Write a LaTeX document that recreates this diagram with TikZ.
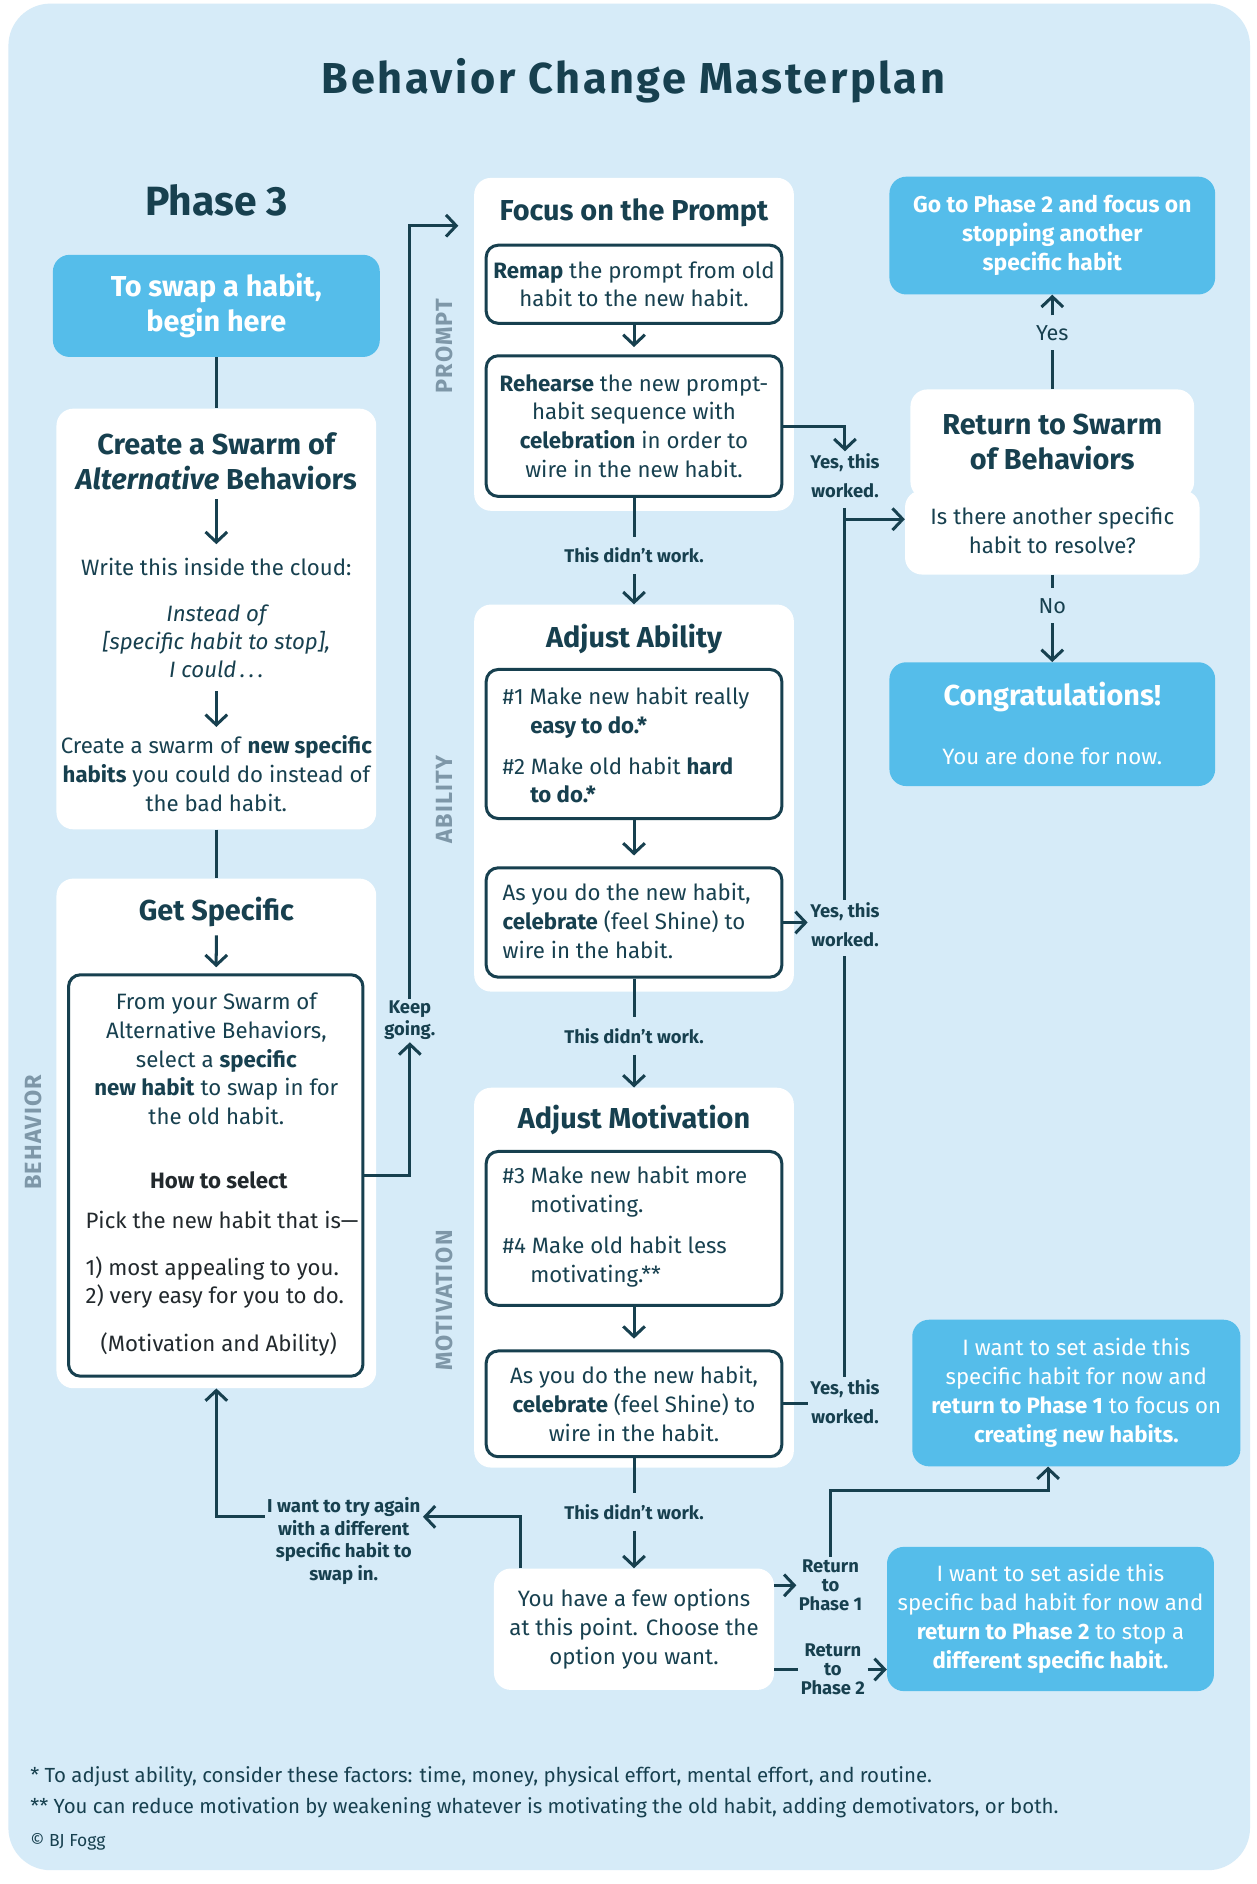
\documentclass[tikz,border=0pt]{standalone}
\usepackage{fontspec}
\setmainfont{Fira Sans}
\usetikzlibrary{arrows.meta}
\definecolor{bgc}{HTML}{D6EBF8}
\definecolor{skyb}{HTML}{55BDEA}
\definecolor{dk}{HTML}{17404F}
\definecolor{grayl}{HTML}{7E97A8}
\definecolor{blk}{HTML}{22292D}
\newcommand\fbody{\fontsize{18.5}{24}\selectfont}
\newcommand\fhead{\fontsize{24}{29}\selectfont\bfseries}
\newcommand\flab{\fontsize{15.3}{24}\selectfont\bfseries}
\tikzset{
  conn/.style={draw=dk, line width=2.5pt},
  arr/.style={conn, -{Straight Barb[length=8.5pt,width=18pt]}},
  wbox/.style={fill=white, rounded corners=14pt, inner sep=0pt, align=center, text=dk, font=\fbody},
  bbox/.style={fill=skyb, rounded corners=14pt, inner sep=0pt, align=center, text=white, font=\fbody},
  ibox/.style={draw=dk, line width=2.5pt, fill=white, rounded corners=10pt, inner sep=0pt, align=center, text=dk, font=\fbody},
  txt/.style={inner sep=0pt, align=center, text=dk, font=\fbody},
  lab/.style={inner xsep=2pt, inner ysep=9pt, align=center, text=dk, font=\fontsize{15.3}{18}\selectfont\bfseries},
  ylab/.style={inner sep=2pt, align=center, text=dk, font=\flab},
  rot/.style={rotate=90, text=grayl, inner sep=0pt, font=\fontsize{19.5}{22}\selectfont\bfseries\addfontfeature{LetterSpace=5}},
  fn/.style={inner sep=0pt, anchor=west, text=dk, font=\fontsize{17}{20}\selectfont},
}
\begin{document}
\begin{tikzpicture}[x=1pt,y=-1pt]
\useasboundingbox (0,0) rectangle (1045,1567.5);
\fill[white] (0,0) rectangle (1045,1567.5);
\fill[bgc, rounded corners=35pt] (7,3) rectangle (1040,1556);

% title
\node[txt, font=\fontsize{36}{40}\selectfont\bfseries\addfontfeature{LetterSpace=6}] (title) at (527,67) {Behavior Change Masterplan};
\node[txt, font=\fontsize{34}{40}\selectfont\bfseries] (phase) at (180,167) {Phase 3};

% side labels
\node[rot] (lbeh) at (28,942) {BEHAVIOR};
\node[rot] (lpro) at (370,288) {PROMPT};
\node[rot] (labi) at (370,665) {ABILITY};
\node[rot] (lmot) at (370,1082) {MOTIVATION};

% left column
\node[bbox, minimum width=272pt, minimum height=85pt, font=\fhead] (start) at (180,254.5) {To swap a habit,\\begin here};
\node[wbox, minimum width=266pt, minimum height=350pt] (swarm) at (180,515) {};
\node[wbox, minimum width=266pt, minimum height=424pt] (gs) at (180,943) {};
\node[ibox, minimum width=245pt, minimum height=334pt] (sel) at (179.5,978) {};

\node[txt, font=\fhead, minimum height=63pt] (sw1) at (180,383.5) {Create a Swarm of\\\textit{Alternative} Behaviors};
\node[txt, minimum height=38pt] (sw2) at (180,472) {Write this inside the cloud:};
\node[txt, minimum height=83pt, font=\fontsize{18.5}{23.5}\selectfont\itshape] (sw3) at (180,533.5) {Instead of\\{[specific habit to stop],}\\I could\,.\,.\,.};
\node[txt, minimum height=77pt] (sw4) at (180,643.5) {Create a swarm of \textbf{new specific}\\\textbf{habits} you could do instead of\\the bad habit.};

\node[txt, font=\fhead, minimum height=38pt] (gs1) at (180,759) {Get Specific};
\node[txt] (s1) at (180,881) {From your Swarm of\\Alternative Behaviors,\\select a \textbf{specific}\\\textbf{new habit} to swap in for\\the old habit.};
\node[txt, text=blk, font=\fbody\bfseries] (s2) at (182,982) {How to select};
\node[txt, text=blk, anchor=west] (s3) at (71,1015) {Pick the new habit that is---};
\node[txt, text=blk, anchor=west, align=left] (s4) at (71,1067) {1) most appealing to you.\\2) very easy for you to do.};
\node[txt, text=blk] (s6) at (182,1119) {(Motivation and Ability)};

% middle column
\node[wbox, minimum width=266pt, minimum height=277pt] (prompt) at (527.5,286.5) {};
\node[wbox, minimum width=266pt, minimum height=322pt] (abil) at (527.5,664) {};
\node[wbox, minimum width=266pt, minimum height=316pt] (mot) at (527.5,1063) {};
\node[wbox, minimum width=233pt, minimum height=101pt] (opt) at (527.5,1355.5) {You have a few options\\at this point. Choose the\\option you want.};

\node[txt, font=\fhead] (p1) at (527.5,177) {Focus on the Prompt};
\node[ibox, minimum width=246pt, minimum height=65pt] (remap) at (527.5,236.5) {\textbf{Remap} the prompt from old\\habit to the new habit.};
\node[ibox, minimum width=246pt, minimum height=117pt] (rehearse) at (527.5,354.5) {\textbf{Rehearse} the new prompt-\\habit sequence with\\\textbf{celebration} in order to\\wire in the new habit.};

\node[txt, font=\fhead] (a1) at (527.5,532) {Adjust Ability};
\node[ibox, minimum width=246pt, minimum height=124pt] (abox) at (527.5,619) {};
\node[txt, anchor=west, align=left] (atext) at (418,620) {\#1 Make new habit really\\\hspace*{23pt}\textbf{easy to do.*}\\[10pt]\#2 Make old habit \textbf{hard}\\\hspace*{23pt}\textbf{to do.*}};
\node[ibox, minimum width=246pt, minimum height=91pt] (acel) at (527.5,767.5) {};
\node[txt, anchor=west, align=left] (aceltext) at (418,766) {As you do the new habit,\\\textbf{celebrate} (feel Shine) to\\wire in the habit.};

\node[txt, font=\fhead] (m1) at (527.5,932) {Adjust Motivation};
\node[ibox, minimum width=246pt, minimum height=128pt] (mbox) at (527.5,1022) {};
\node[txt, anchor=west, align=left] (mtext) at (418,1020.5) {\#3 Make new habit more\\\hspace*{23pt}motivating.\\[10pt]\#4 Make old habit less\\\hspace*{23pt}motivating.**};
\node[ibox, minimum width=246pt, minimum height=88pt] (mcel) at (527.5,1168) {As you do the new habit,\\\textbf{celebrate} (feel Shine) to\\wire in the habit.};

\node[lab] (dw1) at (527.5,462) {This didn't work.};
\node[lab] (dw2) at (527.5,862) {This didn't work.};
\node[lab] (dw3) at (527.5,1258) {This didn't work.};

% right column
\node[bbox, minimum width=271pt, minimum height=98pt, font=\fontsize{19}{24}\selectfont\bfseries] (goph2) at (875.5,196) {Go to Phase 2 and focus on\\stopping another\\specific habit};
\node[wbox, minimum width=236pt, minimum height=91pt] (ret) at (875.5,369.5) {};
\node[wbox, minimum width=245pt, minimum height=70pt] (retq) at (875.5,443) {};
\node[txt, font=\fhead] (rett) at (875.5,367.5) {Return to Swarm\\of Behaviors};
\node[txt] (retqt) at (875.5,441) {Is there another specific\\habit to resolve?};
\node[bbox, minimum width=271pt, minimum height=103pt] (congr) at (875.5,602.5) {};
\node[txt, text=white, font=\fhead] (c1) at (875.5,580) {Congratulations!};
\node[txt, text=white] (c2) at (875.5,629) {You are done for now.};
\node[txt, inner ysep=8pt, font=\fontsize{18}{20}\selectfont] (yeslab) at (875.5,277) {Yes};
\node[txt, inner ysep=8pt, font=\fontsize{18}{20}\selectfont] (nolab) at (875.5,504) {No};

\node[bbox, minimum width=273pt, minimum height=122pt] (p1box) at (895.5,1159) {I want to set aside this\\specific habit for now and\\\textbf{return to Phase 1} to focus on\\\textbf{creating new habits.}};
\node[bbox, minimum width=272pt, minimum height=120pt] (p2box) at (874,1347) {I want to set aside this\\specific bad habit for now and\\\textbf{return to Phase 2} to stop a\\\textbf{different specific habit.}};

\node[ylab] (yes1) at (703,396) {Yes, this\\worked.};
\node[ylab] (yes2) at (703,769) {Yes, this\\worked.};
\node[ylab] (yes3) at (703,1166) {Yes, this\\worked.};
\node[ylab, font=\fontsize{15.3}{18}\selectfont\bfseries] (keep) at (341,849) {Keep\\going.};
\node[ylab, font=\fontsize{15.3}{16}\selectfont\bfseries] (r1lab) at (691,1319) {Return\\to\\Phase 1};
\node[ylab, font=\fontsize{15.3}{16}\selectfont\bfseries] (r2lab) at (693,1389) {Return\\to\\Phase 2};
\node[ylab, font=\fontsize{15.5}{18.7}\selectfont\bfseries] (again) at (286,1282) {I want to try again\\with a different\\specific habit to\\swap in.};

% connectors
\draw[conn] (start) -- (swarm);
\draw[arr] (sw1) -- (sw2);
\draw[arr] (sw3) -- (sw4);
\draw[conn] (swarm) -- (gs);
\draw[arr, shorten >=5pt] (gs1) -- (sel);
\draw[arr] (sel.east) -| (keep.south);
\draw[arr, shorten >=13pt] (keep.north) |- ([yshift=-40pt]prompt.north west);

\draw[arr, shorten >=6pt] (remap) -- (rehearse);
\draw[conn] (rehearse) -- (dw1);
\draw[arr] (dw1) -- (abil);
\draw[arr, shorten >=9pt] (abox) -- (acel);
\draw[conn] (acel) -- (dw2);
\draw[arr] (dw2) -- (mot);
\draw[arr, shorten >=9pt] (mbox) -- (mcel);
\draw[conn] (mcel) -- (dw3);
\draw[arr] (dw3) -- (opt);

\draw[arr] (rehearse.east) -| (yes1.north);
\draw[conn, shorten <=6pt] (yes1.south) -- (yes2.north);
\draw[conn, shorten <=6pt] (yes2.south) -- (yes3.north);
\draw[arr] (yes1.south |- 0,432) -- (retq.west |- 0,432);
\draw[arr] (acel.east) -- (yes2.west |- acel.east);
\draw[conn] (mcel.east) -- (yes3.west |- mcel.east);

\draw[conn] (ret) -- (yeslab);
\draw[arr] (yeslab) -- (goph2);
\draw[conn] (retq) -- (nolab);
\draw[arr] (nolab) -- (congr);

\draw[arr] ([xshift=22pt]opt.north west) |- (again.east |- 0,1262);
\draw[arr] (again.west |- 0,1262) -| (gs.south);
\draw[arr] (opt.east |- r1lab.west) -- (r1lab.west);
\draw[arr] (r1lab.north) -- (r1lab.north |- 0,1240) -| ([xshift=-23.5pt]p1box.south);
\draw[conn] (opt.east |- r2lab.west) -- (r2lab.west);
\draw[arr] (r2lab.east) -- (p2box.west |- r2lab.east);

% footnotes
\node[fn] (fn1) at (25,1478) {* To adjust ability, consider these factors: time, money, physical effort, mental effort, and routine.};
\node[fn] (fn2) at (25,1504) {** You can reduce motivation by weakening whatever is motivating the old habit, adding demotivators, or both.};
\node[fn, font=\fontsize{14.5}{16}\selectfont] (cr) at (25,1532) {© BJ Fogg};
\end{tikzpicture}
\end{document}
